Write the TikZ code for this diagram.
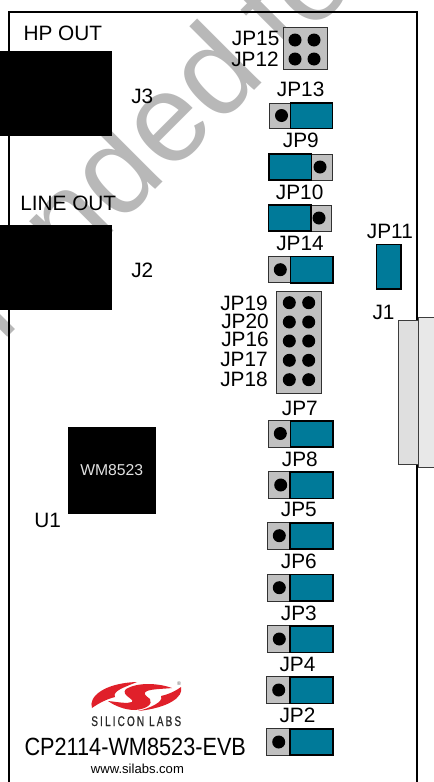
\documentclass[tikz,border=0pt]{standalone}
\usepackage{fontspec}
\setmainfont{Liberation Sans}
\newfontfamily\logofont[FakeStretch=0.72,LetterSpace=15,FakeBold=0.4]{Liberation Sans}
\usepackage{tikz}
\definecolor{shuntblue}{HTML}{007A99}
\definecolor{basegray}{HTML}{C0C0C0}
\definecolor{stampgray}{HTML}{B8B8B8}
\definecolor{logored}{HTML}{E0202A}
\tikzset{
  lbl/.style={anchor=base west,inner sep=0pt,font=\fontsize{15.6pt}{15.6pt}\selectfont},
  stamp/.style={inner sep=0pt,rotate=45,text=stampgray,font=\fontsize{94pt}{94pt}\selectfont},
  blackblock/.style={draw=none,fill=black},
  pinbase/.style={draw={rgb,255:red,50;green,50;blue,50},line width=0.7pt,fill=basegray},
  shunt/.style={draw=black,line width=1.2pt,fill=shuntblue},
  pinhole/.style={fill=black},
  dsub/.style={draw={rgb,255:red,60;green,60;blue,60},line width=0.6pt}
}

\begin{document}
\begin{tikzpicture}[x=0.75pt,y=0.75pt,yscale=-1,xscale=1]
\useasboundingbox (0,0) rectangle (434,782);
\clip (0,0) rectangle (434,782);
\fill [white] (0,0) rectangle (434,782);

% Text Node
\draw (268,77) node (stampA) [stamp,anchor=base east] {Recommended};
% Text Node
\draw (286,59) node (stampB) [stamp,anchor=base west] {for};

%Shape: Rectangle
\draw [line width=1.9pt] (9,12) -- (417,12) -- (417,800) -- (9,800) -- cycle ;

%Shape: Rectangle
\draw [blackblock] (-5,50.5) rectangle (111.5,136) ;
%Shape: Rectangle
\draw [blackblock] (-5,224.5) rectangle (111.5,310) ;
%Shape: Rectangle
\draw [blackblock] (68,427) rectangle (156,514) ;

%Shape: Rectangle
\draw [dsub,fill={rgb,255:red,232;green,232;blue,232}] (418,317.7) rectangle (440,467) ;
%Shape: Rectangle
\draw [dsub,fill={rgb,255:red,223;green,223;blue,223}] (398.3,320.3) rectangle (418.3,464.7) ;

%Shape: Rectangle
\draw [pinbase] (283,27.5) rectangle (327,69.5) ;
\fill [pinhole] (295,40) circle [radius=6.5] ;
\fill [pinhole] (314,40) circle [radius=6.5] ;
\fill [pinhole] (295,59) circle [radius=6.5] ;
\fill [pinhole] (314,59) circle [radius=6.5] ;

%Shape: Rectangle
\draw [pinbase] (276.7,291) rectangle (321,393.3) ;
\fill [pinhole] (289.3,302.7) circle [radius=6.5] ;
\fill [pinhole] (308.7,302.7) circle [radius=6.5] ;
\fill [pinhole] (289.3,322) circle [radius=6.5] ;
\fill [pinhole] (308.7,322) circle [radius=6.5] ;
\fill [pinhole] (289.3,341) circle [radius=6.5] ;
\fill [pinhole] (308.7,341) circle [radius=6.5] ;
\fill [pinhole] (289.3,360.3) circle [radius=6.5] ;
\fill [pinhole] (308.7,360.3) circle [radius=6.5] ;
\fill [pinhole] (289.3,379.7) circle [radius=6.5] ;
\fill [pinhole] (308.7,379.7) circle [radius=6.5] ;

%Shape: Jumper JP13
\draw [pinbase] (269.5,103) rectangle (290.5,128.5) ;
\draw [shunt] (290.5,103) rectangle (332.5,128.5) ;
\fill [pinhole] (281.5,115.5) circle [radius=6.5] ;
%Shape: Jumper JP9
\draw [pinbase] (311.5,154) rectangle (332,180) ;
\draw [shunt] (269,154) rectangle (311.5,180) ;
\fill [pinhole] (320,167) circle [radius=6.5] ;
%Shape: Jumper JP10
\draw [pinbase] (311,205) rectangle (331,231) ;
\draw [shunt] (268.5,205) rectangle (311,231) ;
\fill [pinhole] (319,218) circle [radius=6.5] ;
%Shape: Jumper JP14
\draw [pinbase] (268,256.5) rectangle (290.3,282.7) ;
\draw [shunt] (290.3,256.5) rectangle (332.7,282.7) ;
\fill [pinhole] (280.3,269.7) circle [radius=6.5] ;
%Shape: Jumper JP11
\draw [shunt] (376.3,244.3) rectangle (400.7,288.7) ;
%Shape: Jumper JP7
\draw [pinbase] (268,420.7) rectangle (290.3,447) ;
\draw [shunt] (290.3,420.7) rectangle (332.7,447) ;
\fill [pinhole] (280.3,433.5) circle [radius=6.5] ;
%Shape: Jumper JP8
\draw [pinbase] (268.3,471.7) rectangle (290,498.3) ;
\draw [shunt] (290,471.7) rectangle (332.7,498.3) ;
\fill [pinhole] (280.7,485) circle [radius=6.5] ;
%Shape: Jumper JP5
\draw [pinbase] (267.3,522.7) rectangle (290,549) ;
\draw [shunt] (290,522.7) rectangle (332.7,549) ;
\fill [pinhole] (279.3,535.7) circle [radius=6.5] ;
%Shape: Jumper JP6
\draw [pinbase] (267.3,574.3) rectangle (290,601) ;
\draw [shunt] (290,574.3) rectangle (332.7,601) ;
\fill [pinhole] (279.3,587.7) circle [radius=6.5] ;
%Shape: Jumper JP3
\draw [pinbase] (267.3,625.7) rectangle (290,652.3) ;
\draw [shunt] (290,625.7) rectangle (332.7,652.3) ;
\fill [pinhole] (279.3,639) circle [radius=6.5] ;
%Shape: Jumper JP4
\draw [pinbase] (266,676.7) rectangle (290,703.3) ;
\draw [shunt] (290,676.7) rectangle (333,703.3) ;
\fill [pinhole] (278.7,690) circle [radius=6.5] ;
%Shape: Jumper JP2
\draw [pinbase] (266,728.7) rectangle (290,755) ;
\draw [shunt] (290,728.7) rectangle (333,755) ;
\fill [pinhole] (278.7,742) circle [radius=6.5] ;

%Shape: Logo
\fill [logored] (92,708) .. controls (88,697) and (104,683) .. (137,682) .. controls (125,687) and (112,691) .. (115,697) .. controls (107,699) and (99,703) .. (92,708) -- cycle ;
\fill [logored] (126,689) .. controls (138,682) and (158,683) .. (172,688) .. controls (162,689) and (152,689) .. (147,691) .. controls (142,693) and (146,696) .. (150,699) .. controls (153,704) and (147,709) .. (135,710) .. controls (125,710) and (115,706) .. (108,701) .. controls (118,702) and (127,704) .. (132,702) .. controls (135,699) and (120,695) .. (126,689) -- cycle ;
\fill [logored] (181,687) .. controls (184,697) and (168,708) .. (138,711) .. controls (150,708) and (164,702) .. (161,696) .. controls (170,694) and (177,690) .. (181,687) -- cycle ;
% Text Node
\draw (179,684) node (logoMark) [inner sep=0pt,text={rgb,255:red,90;green,90;blue,90},font=\fontsize{4pt}{4pt}\selectfont] {\textregistered};

% Text Node
\draw (23.3,40) node (lblHp) [lbl] {HP OUT};
% Text Node
\draw (20,210.7) node (lblLine) [lbl] {LINE OUT};
% Text Node
\draw (131,103.3) node (lblJthree) [lbl] {J3};
% Text Node
\draw (131,277.3) node (lblJtwo) [lbl] {J2};
% Text Node
\draw (372.3,319) node (lblJone) [lbl] {J1};
% Text Node
\draw (34,527) node (lblUone) [lbl] {U1};
% Text Node
\draw (80,475) node (lblChip) [anchor=base west,inner sep=0pt,text={rgb,255:red,225;green,225;blue,225},font=\fontsize{11.8pt}{11.8pt}\selectfont] {WM8523};
% Text Node
\draw (231.7,45.7) node (lblJPfifteen) [lbl] {JP15};
% Text Node
\draw (231,66.7) node (lblJPtwelve) [lbl] {JP12};
% Text Node
\draw (276.7,96.7) node (lblJPthirteen) [lbl] {JP13};
% Text Node
\draw (282.7,147.7) node (lblJPnine) [lbl] {JP9};
% Text Node
\draw (275.7,199) node (lblJPten) [lbl] {JP10};
% Text Node
\draw (366.7,238) node (lblJPeleven) [lbl] {JP11};
% Text Node
\draw (276,250.7) node (lblJPfourteen) [lbl] {JP14};
% Text Node
\draw (220,310) node (lblJPnineteen) [lbl] {JP19};
% Text Node
\draw (221,328.3) node (lblJPtwenty) [lbl] {JP20};
% Text Node
\draw (221,346) node (lblJPsixteen) [lbl] {JP16};
% Text Node
\draw (220,366.7) node (lblJPseventeen) [lbl] {JP17};
% Text Node
\draw (220,386.7) node (lblJPeighteen) [lbl] {JP18};
% Text Node
\draw (281.7,415) node (lblJPseven) [lbl] {JP7};
% Text Node
\draw (281.7,466) node (lblJPeight) [lbl] {JP8};
% Text Node
\draw (280.7,516.7) node (lblJPfive) [lbl] {JP5};
% Text Node
\draw (280.7,568.3) node (lblJPsix) [lbl] {JP6};
% Text Node
\draw (280.7,620) node (lblJPthree) [lbl] {JP3};
% Text Node
\draw (279.3,671) node (lblJPfour) [lbl] {JP4};
% Text Node
\draw (279.3,722.7) node (lblJPtwo) [lbl] {JP2};
% Text Node
\draw (91,726) node (lblLogo) [anchor=base west,inner sep=0pt,text={rgb,255:red,40;green,40;blue,40},font=\logofont\fontsize{10.5pt}{10.5pt}\selectfont] {SILICON LABS};
% Text Node
\draw (24.3,755) node (lblBoard) [anchor=base west,inner sep=0pt,xscale=0.87,font=\fontsize{18.7pt}{18.7pt}\selectfont] {CP2114-WM8523-EVB};
% Text Node
\draw (90.7,773) node (lblWeb) [anchor=base west,inner sep=0pt,font=\fontsize{9.8pt}{9.8pt}\selectfont] {www.silabs.com};
\end{tikzpicture}
\end{document}
